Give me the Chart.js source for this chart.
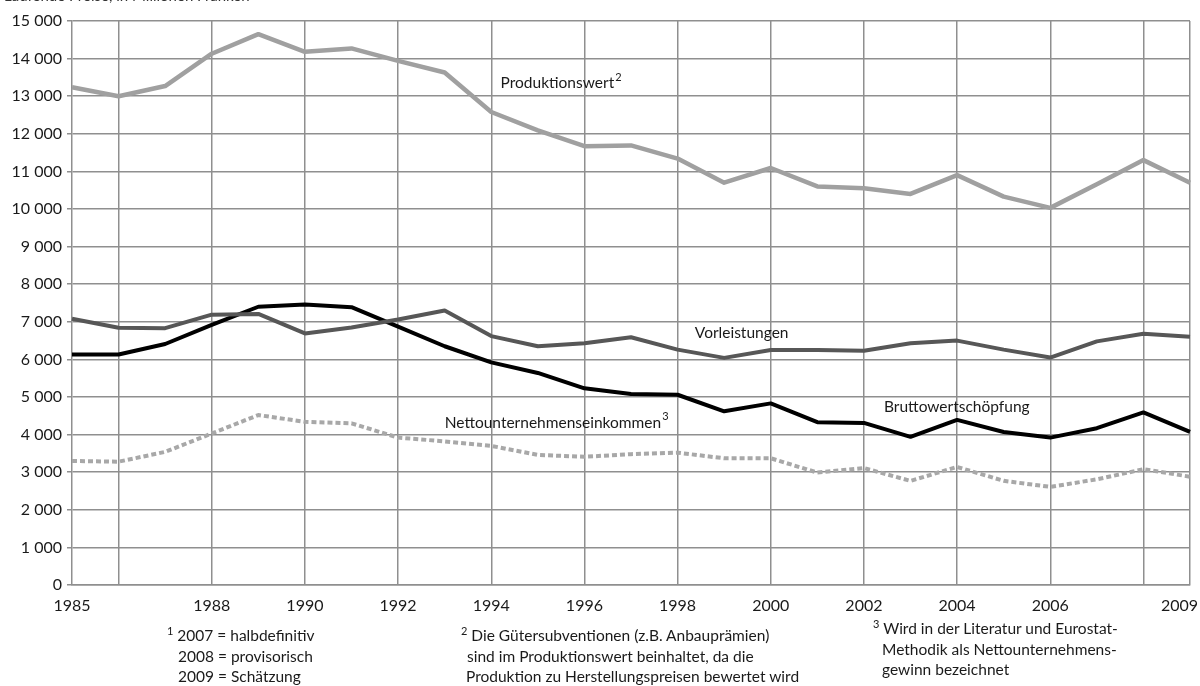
<!DOCTYPE html>
<html>
<head>
<meta charset="utf-8">
<script src="https://cdn.jsdelivr.net/npm/chart.js@4/dist/chart.umd.min.js"></script>
<style>
  html, body { margin: 0; padding: 0; background: #fff; overflow: hidden; }
  #wrap { position: relative; width: 1200px; height: 686px; overflow: hidden; }
  canvas { position: absolute; left: 0; top: 0; }
  .note { position: absolute; font-family: Lato, "Open Sans", sans-serif; font-size: 15.5px; line-height: 20.5px; color: #1a1a1a; white-space: nowrap; }
  .note sup { font-size: 11px; line-height: 0; vertical-align: 6px; }
  .top { position: absolute; left: 4px; top: -14px; font-family: Lato, sans-serif; font-size: 15px; color: #333; white-space: nowrap; }
</style>
</head>
<body>
<div id="wrap">
  <canvas id="c" width="1200" height="686"></canvas>
  <div class="top">Laufende Preise, in Millionen Franken</div>
  <div class="note" style="left:167px; top:625px;"><sup>1</sup> 2007 = halbdefinitiv<br><span style="padding-left:11px">2008 = provisorisch</span><br><span style="padding-left:11px">2009 = Schätzung</span></div>
  <div class="note" style="left:461px; top:625px;"><sup>2</sup> Die Gütersubventionen (z.B. Anbauprämien)<br><span style="padding-left:6px">sind im Produktionswert beinhaltet, da die</span><br><span style="padding-left:5px">Produktion zu Herstellungspreisen bewertet wird</span></div>
  <div class="note" style="left:873px; top:618px;"><sup>3</sup> Wird in der Literatur und Eurostat-<br><span style="padding-left:9px">Methodik als Nettounternehmens-</span><br><span style="padding-left:9px">gewinn bezeichnet</span></div>
</div>
<script>
const years = ['1985','1986','1987','1988','1989','1990','1991','1992','1993','1994','1995','1996','1997','1998','1999','2000','2001','2002','2003','2004','2005','2006','2007','2008','2009'];
const shownYearLabels = ['1985','1988','1990','1992','1994','1996','1998','2000','2002','2004','2006','2009'];
const produktionswert = [13240,13000,13270,14130,14650,14180,14270,13940,13630,12580,12090,11670,11690,11340,10700,11090,10600,10550,10400,10900,10330,10030,10660,11300,10700];
const vorleistungen = [7080,6840,6830,7190,7210,6690,6850,7060,7300,6620,6350,6430,6590,6260,6040,6250,6250,6230,6430,6500,6260,6050,6480,6680,6600];
const bruttowertschoepfung = [6130,6130,6410,6920,7400,7460,7390,6870,6350,5920,5640,5230,5080,5060,4620,4830,4330,4310,3940,4390,4070,3920,4170,4590,4070];
const nettounternehmenseinkommen = [3300,3280,3540,4030,4520,4340,4300,3920,3820,3700,3460,3410,3480,3520,3370,3370,2990,3110,2770,3140,2770,2610,2810,3080,2880];
const seriesNames = ['Produktionswert','Vorleistungen','Bruttowertschöpfung','Nettounternehmenseinkommen'];
const seriesNoteMarks = ['2', '', '', '3'];
const yMin = 0, yMax = 15000, yStep = 1000;

const FONT = 'Lato, "Open Sans", sans-serif';
const GRID = '#8f8f8f';

// label anchors (category index, value) for the in-chart series labels
const seriesLabelAnchors = [
  { s: 0, x: 9.2, y: 13350 },
  { s: 1, x: 13.37, y: 6700 },
  { s: 2, x: 17.43, y: 4730 },
  { s: 3, x: 8.0, y: 4310 }
];

function fmt(v) { return String(v).replace(/\B(?=(\d{3})+(?!\d))/g, ' '); }

const labelPlugin = {
  id: 'seriesLabels',
  afterDatasetsDraw(chart) {
    const ctx = chart.ctx, xs = chart.scales.x, ys = chart.scales.y;
    ctx.save();
    ctx.fillStyle = '#1a1a1a';
    ctx.textAlign = 'left';
    ctx.textBaseline = 'middle';
    seriesLabelAnchors.forEach(a => {
      const px = xs.getPixelForValue(a.x), py = ys.getPixelForValue(a.y);
      ctx.font = '15.5px ' + FONT;
      const t = seriesNames[a.s];
      ctx.fillText(t, px, py);
      const mark = seriesNoteMarks[a.s];
      if (mark) {
        const w = ctx.measureText(t).width;
        ctx.font = '11px ' + FONT;
        ctx.fillText(mark, px + w + 1, py - 6);
      }
    });
    // last x label, right-aligned at the plot edge like the reference
    const last = years[years.length - 1];
    ctx.font = '16px ' + FONT;
    ctx.textAlign = 'right';
    ctx.fillText(last, xs.getPixelForValue(years.length - 1) + 8, xs.top + 21);
    ctx.restore();
  }
};

const lastIdx = years.length - 1;

new Chart(document.getElementById('c'), {
  type: 'line',
  data: {
    labels: years,
    datasets: [
      { label: seriesNames[3], data: nettounternehmenseinkommen, borderColor: '#a8a8a8', borderWidth: 4, borderDash: [5, 3], borderCapStyle: 'butt' },
      { label: seriesNames[1], data: vorleistungen, borderColor: '#575757', borderWidth: 4 },
      { label: seriesNames[2], data: bruttowertschoepfung, borderColor: '#000000', borderWidth: 4 },
      { label: seriesNames[0], data: produktionswert, borderColor: '#a0a0a0', borderWidth: 4.5 }
    ]
  },
  options: {
    responsive: false,
    animation: false,
    layout: { padding: { top: 21, right: 10, left: 0, bottom: 70 } },
    elements: {
      point: { radius: 0, hoverRadius: 0 },
      line: { tension: 0, borderJoinStyle: 'round', fill: false }
    },
    plugins: { legend: { display: false }, tooltip: { enabled: false }, title: { display: false } },
    scales: {
      x: {
        type: 'category',
        offset: false,
        border: { display: true, color: GRID, width: 1.5 },
        grid: {
          drawTicks: false,
          lineWidth: 1.5,
          color: (c) => (c.index % 2 === 1 || c.index === lastIdx) ? GRID : 'rgba(0,0,0,0)'
        },
        ticks: {
          autoSkip: false,
          maxRotation: 0,
          padding: 11,
          color: '#1a1a1a',
          font: { family: FONT, size: 16 },
          callback: function (v, i) {
            const lab = years[i];
            if (i === lastIdx) return '';
            return shownYearLabels.includes(lab) ? lab : '';
          }
        },
        afterFit: (s) => { s.height = 31; s.paddingLeft = 0; s.paddingRight = 0; }
      },
      y: {
        min: yMin, max: yMax,
        border: { display: true, color: GRID, width: 1.5 },
        grid: { color: GRID, lineWidth: 1.5, drawTicks: true, tickLength: 5, tickColor: GRID },
        ticks: {
          stepSize: yStep,
          padding: 5,
          color: '#1a1a1a',
          font: { family: FONT, size: 16 },
          callback: (v) => fmt(v)
        },
        afterFit: (s) => { s.width = 72; }
      }
    }
  },
  plugins: [labelPlugin]
});
</script>
</body>
</html>
